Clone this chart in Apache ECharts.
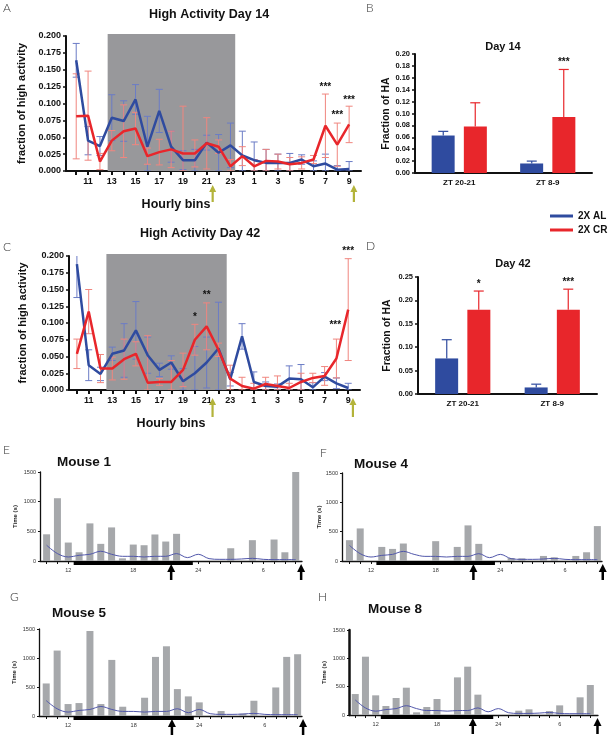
<!DOCTYPE html>
<html>
<head>
<meta charset="utf-8">
<title>High activity</title>
<script src="https://cdn.jsdelivr.net/npm/echarts@6/dist/echarts.min.js"></script>
<style>
  html, body { margin: 0; padding: 0; background: #fff; }
  #chart { width: 611px; height: 742px; }
</style>
</head>
<body>
<div id="chart"></div>
<script>
// hourly bins, 10 ... 33 (25 = 1 am of next day)
var hours = [10, 11, 12, 13, 14, 15, 16, 17, 18, 19, 20, 21, 22, 23, 24, 25, 26, 27, 28, 29, 30, 31, 32, 33];
var hourLabels = [11, 13, 15, 17, 19, 21, 23, 25, 27, 29, 31, 33];
var mouseLabels = [12, 18, 24, 30];

// day 14 (panel A)
var d14AL    = [0.164, 0.045, 0.037, 0.079, 0.074, 0.106, 0.036, 0.089, 0.036, 0.016, 0.016, 0.042, 0.027, 0.038, 0.023, 0.016, 0.012, 0.012, 0.012, 0.017, 0.007, 0.011, 0.002, 0.003];
var d14ALerr = [0.025, 0.021, 0.014, 0.034, 0.030, 0.022, 0.045, 0.032, 0.023, 0.014, 0.016, 0.011, 0.027, 0.033, 0.036, 0.027, 0.020, 0.013, 0.014, 0.007, 0.008, 0.014, 0.006, 0.011];
var d14CR    = [0.081, 0.082, 0.014, 0.045, 0.059, 0.063, 0.022, 0.028, 0.032, 0.026, 0.026, 0.041, 0.036, 0.007, 0.022, 0.007, 0.015, 0.014, 0.010, 0.012, 0.017, 0.067, 0.039, 0.069];
var d14CRerr = [0.063, 0.066, 0.012, 0.015, 0.039, 0.024, 0.012, 0.019, 0.027, 0.070, 0.020, 0.038, 0.010, 0.010, 0.014, 0.010, 0.017, 0.011, 0.010, 0.009, 0.006, 0.047, 0.032, 0.027];
var d14Stars = [[31, 0.124], [32, 0.082], [33, 0.105]];
var d14StarText = ['***', '***', '***'];
var d14Dark = [[12.65, 23.4, 0.203]];

// day 42 (panel C)
var d42AL    = [0.188, 0.037, 0.024, 0.054, 0.059, 0.089, 0.052, 0.030, 0.041, 0.013, 0.025, 0.041, 0.062, 0.016, 0.080, 0.012, 0.006, 0.005, 0.017, 0.016, 0.004, 0.020, 0.010, 0.003];
var d42ALerr = [0.050, 0.023, 0.010, 0.010, 0.040, 0.043, 0.027, 0.010, 0.010, 0.019, 0.040, 0.038, 0.069, 0.010, 0.019, 0.015, 0.006, 0.004, 0.019, 0.022, 0.007, 0.006, 0.008, 0.007];
var d42CR    = [0.054, 0.117, 0.032, 0.032, 0.046, 0.054, 0.011, 0.012, 0.012, 0.030, 0.075, 0.095, 0.060, 0.017, 0.006, 0.002, 0.009, 0.006, 0.003, 0.012, 0.018, 0.021, 0.047, 0.120];
var d42CRerr = [0.022, 0.033, 0.021, 0.017, 0.030, 0.018, 0.070, 0.005, 0.032, 0.025, 0.023, 0.035, 0.010, 0.020, 0.013, 0.008, 0.010, 0.015, 0.007, 0.013, 0.007, 0.014, 0.029, 0.076];
var d42Stars = [[20, 0.109], [21, 0.141], [31.9, 0.097], [33, 0.207]];
var d42StarText = ['*', '**', '***', '***'];
var d42Dark = [[12.5, 22.7, 0.203]];

var arrowHours = [21.5, 33.4];

// ZT windows (panels B, D)
var ztCats = ['ZT 20-21', 'ZT 8-9'];
var b14AL = [0.063, 0.016], b14ALerr = [0.007, 0.004];
var b14CR = [0.078, 0.094], b14CRerr = [0.040, 0.080];
var b14StarText = ['', '***'];
var b42AL = [0.076, 0.014], b42ALerr = [0.040, 0.007];
var b42CR = [0.180, 0.180], b42CRerr = [0.040, 0.044];
var b42StarText = ['*', '***'];

// single mice (panels E-H), seconds per hourly bin
var mouse1 = [450, 1058, 311, 147, 634, 289, 566, 45, 277, 266, 447, 328, 458, 0, 0, 0, 0, 215, 0, 351, 0, 362, 147, 1500];
var mouse4 = [355, 555, 0, 240, 206, 298, 0, 0, 338, 0, 240, 607, 292, 0, 0, 50, 45, 0, 86, 63, 0, 86, 149, 595];
var mouse5 = [561, 1128, 206, 223, 1466, 206, 967, 160, 0, 315, 1019, 1202, 464, 338, 235, 0, 86, 0, 40, 263, 0, 492, 1019, 1065];
var mouse8 = [370, 1029, 347, 159, 300, 482, 47, 141, 282, 0, 664, 853, 359, 0, 0, 0, 76, 100, 0, 70, 170, 0, 312, 529];
var groupLine = [266, 125, 68, 96, 113, 164, 113, 79, 79, 68, 79, 79, 125, 57, 113, 40, 28, 28, 34, 45, 28, 23, 23, 23];
var darkBar = [[12.5, 23.5]];

var FONT = "'Liberation Sans', Arial, sans-serif";
var BLUE = '#2f4b9f', RED = '#e8262b';
var BLUE_ERR = '#6b7cc6', RED_ERR = '#f0867f';
var ARROW_Y = '#b3b33a';

var chart = echarts.init(document.getElementById('chart'));

function pairs(v) {
  return hours.map(function (h, i) { return [h, v[i]]; });
}
function triples(v, e) {
  return hours.map(function (h, i) { return [h, v[i], e[i]]; });
}

// vertical error bar with caps
function errItem(color, cap) {
  return function (params, api) {
    var x = api.value(0), y = api.value(1), e = api.value(2);
    var hi = api.coord([x, y + e]);
    var lo = api.coord([x, Math.max(0, y - e)]);
    var st = { stroke: color, lineWidth: 1 };
    return {
      type: 'group',
      children: [
        { type: 'line', shape: { x1: hi[0], y1: hi[1], x2: lo[0], y2: lo[1] }, style: st },
        { type: 'line', shape: { x1: hi[0] - cap, y1: hi[1], x2: hi[0] + cap, y2: hi[1] }, style: st },
        { type: 'line', shape: { x1: lo[0] - cap, y1: lo[1], x2: lo[0] + cap, y2: lo[1] }, style: st }
      ]
    };
  };
}

// upward-only error bar next to a grouped bar
function barErrItem(dx, color, cap) {
  return function (params, api) {
    var c = api.value(0), v = api.value(1), e = api.value(2);
    var p0 = api.coord([c, v]), p1 = api.coord([c, v + e]);
    var x = p0[0] + dx;
    var st = { stroke: color, lineWidth: 1.2 };
    return {
      type: 'group',
      children: [
        { type: 'line', shape: { x1: x, y1: p0[1], x2: x, y2: p1[1] }, style: st },
        { type: 'line', shape: { x1: x - cap, y1: p1[1], x2: x + cap, y2: p1[1] }, style: st }
      ]
    };
  };
}

function textItem(texts, dx, size) {
  return function (params, api) {
    var p = api.coord([api.value(0), api.value(1)]);
    return {
      type: 'text', x: p[0] + dx, y: p[1],
      style: { text: texts[params.dataIndex], textAlign: 'center', textVerticalAlign: 'middle',
               font: 'bold ' + size + 'px ' + FONT, fill: '#111' }
    };
  };
}

function shadeItem(params, api) {
  var a = api.coord([api.value(0), 0]);
  var b = api.coord([api.value(1), api.value(2)]);
  return { type: 'rect', shape: { x: a[0], y: b[1], width: b[0] - a[0], height: a[1] - b[1] },
           style: { fill: '#98989b' } };
}

function darkBarItem(params, api) {
  var a = api.coord([api.value(0), 0]);
  var b = api.coord([api.value(1), 0]);
  return { type: 'rect', shape: { x: a[0], y: a[1], width: b[0] - a[0], height: 4 },
           style: { fill: '#000' } };
}

function arrowItem(color, gap, len, headW, headH, shaft) {
  return function (params, api) {
    var p = api.coord([api.value(0), 0]);
    var x = p[0], tip = p[1] + gap;
    return {
      type: 'group',
      children: [
        { type: 'rect', shape: { x: x - shaft / 2, y: tip + headH - 1, width: shaft, height: len - headH + 1 },
          style: { fill: color } },
        { type: 'polygon', shape: { points: [[x, tip], [x - headW / 2, tip + headH], [x + headW / 2, tip + headH]] },
          style: { fill: color } }
      ]
    };
  };
}

function hourAxis(gi, min, max) {
  return {
    type: 'value', gridIndex: gi, min: min, max: max,
    axisLine: { show: true, lineStyle: { color: '#111', width: 2 } },
    axisTick: { show: true, customValues: hours, length: 4, lineStyle: { color: '#111', width: 2 } },
    axisLabel: {
      customValues: hourLabels, margin: 6,
      formatter: function (v) { return v > 24 ? v - 24 : v; },
      fontFamily: FONT, fontWeight: 'bold', fontSize: 9, color: '#111'
    },
    splitLine: { show: false }
  };
}

function fracAxis(gi, max, interval, digits, name, gap, fs, nameFs) {
  return {
    type: 'value', gridIndex: gi, min: 0, max: max, interval: interval,
    name: name, nameLocation: 'middle', nameGap: gap,
    nameTextStyle: { fontFamily: FONT, fontWeight: 'bold', fontSize: nameFs, color: '#111' },
    axisLine: { show: true, lineStyle: { color: '#111', width: 2 } },
    axisTick: { show: true, length: 3, lineStyle: { color: '#111', width: 1.5 } },
    axisLabel: {
      margin: 5, formatter: function (v) { return v.toFixed(digits); },
      fontFamily: FONT, fontWeight: 'bold', fontSize: fs, color: '#111'
    },
    splitLine: { show: false }
  };
}

function ztAxis(gi) {
  return {
    type: 'category', gridIndex: gi, data: ztCats,
    axisLine: { show: true, lineStyle: { color: '#111', width: 2 } },
    axisTick: { show: false },
    axisLabel: { margin: 6, fontFamily: FONT, fontWeight: 'bold', fontSize: 8, color: '#111' }
  };
}

function mouseXAxis(gi, min, max) {
  return {
    type: 'value', gridIndex: gi, min: min, max: max,
    axisLine: { show: true, lineStyle: { color: '#111', width: 1.3 } },
    axisTick: { show: true, customValues: hours, length: 3, lineStyle: { color: '#111', width: 1 } },
    axisLabel: {
      customValues: mouseLabels, margin: 6,
      formatter: function (v) { return v > 24 ? v - 24 : v; },
      fontFamily: FONT, fontSize: 5.5, color: '#333'
    },
    splitLine: { show: false }
  };
}

function mouseYAxis(gi, gap, lw) {
  return {
    type: 'value', gridIndex: gi, min: 0, max: 1500, interval: 500,
    name: 'Time (s)', nameLocation: 'middle', nameGap: gap,
    nameTextStyle: { fontFamily: FONT, fontWeight: 'bold', fontSize: 6, color: '#222' },
    axisLine: { show: true, lineStyle: { color: '#111', width: lw } },
    axisTick: { show: true, length: 2, lineStyle: { color: '#111', width: 1 } },
    axisLabel: { margin: 4, formatter: function (v) { return String(v); },
                 fontFamily: FONT, fontSize: 5.5, color: '#333' },
    splitLine: { show: false }
  };
}

var series = [];

// panels A (grid 0) and C (grid 2)
[[0, d14AL, d14ALerr, d14CR, d14CRerr, d14Stars, d14StarText, d14Dark, 14, 17],
 [2, d42AL, d42ALerr, d42CR, d42CRerr, d42Stars, d42StarText, d42Dark, 8, 19]].forEach(function (p) {
  var gi = p[0];
  series.push({ type: 'custom', xAxisIndex: gi, yAxisIndex: gi, data: p[7], renderItem: shadeItem, clip: false, z: 1, silent: true });
  series.push({ type: 'custom', xAxisIndex: gi, yAxisIndex: gi, data: triples(p[1], p[2]), renderItem: errItem(BLUE_ERR, 3.5), clip: true, z: 2 });
  series.push({ type: 'custom', xAxisIndex: gi, yAxisIndex: gi, data: triples(p[3], p[4]), renderItem: errItem(RED_ERR, 3.5), clip: true, z: 2 });
  series.push({ name: '2X AL', type: 'line', xAxisIndex: gi, yAxisIndex: gi, data: pairs(p[1]), symbol: 'none',
                lineStyle: { color: BLUE, width: 2.5 }, itemStyle: { color: BLUE }, z: 4 });
  series.push({ name: '2X CR', type: 'line', xAxisIndex: gi, yAxisIndex: gi, data: pairs(p[3]), symbol: 'none',
                lineStyle: { color: RED, width: 2.5 }, itemStyle: { color: RED }, z: 5 });
  series.push({ type: 'custom', xAxisIndex: gi, yAxisIndex: gi, data: p[5], renderItem: textItem(p[6], 0, 10), clip: false, z: 6 });
  series.push({ type: 'custom', xAxisIndex: gi, yAxisIndex: gi, data: arrowHours.map(function (h) { return [h, 0]; }),
                renderItem: arrowItem(ARROW_Y, p[8], p[9], 7, 7, 2.2), clip: false, z: 6 });
});

// panels B (grid 1) and D (grid 3)
[[1, b14AL, b14ALerr, b14CR, b14CRerr, b14StarText],
 [3, b42AL, b42ALerr, b42CR, b42CRerr, b42StarText]].forEach(function (p) {
  var gi = p[0];
  series.push({ type: 'bar', xAxisIndex: gi, yAxisIndex: gi, data: p[1], barWidth: 23, itemStyle: { color: BLUE }, z: 2 });
  series.push({ type: 'bar', xAxisIndex: gi, yAxisIndex: gi, data: p[3], barWidth: 23, barGap: '40%', itemStyle: { color: RED }, z: 2 });
  series.push({ type: 'custom', xAxisIndex: gi, yAxisIndex: gi,
                data: p[1].map(function (v, i) { return [i, v, p[2][i]]; }), renderItem: barErrItem(-16, BLUE, 5), z: 3 });
  series.push({ type: 'custom', xAxisIndex: gi, yAxisIndex: gi,
                data: p[3].map(function (v, i) { return [i, v, p[4][i]]; }), renderItem: barErrItem(16, RED, 5), z: 3 });
  series.push({ type: 'custom', xAxisIndex: gi, yAxisIndex: gi,
                data: p[3].map(function (v, i) { return [i, v + p[4][i] + (gi === 1 ? 0.012 : 0.015)]; }),
                renderItem: textItem(p[5], 16, 10), clip: false, z: 4 });
});

// panels E-H (grids 4-7)
[[4, mouse1], [5, mouse4], [6, mouse5], [7, mouse8]].forEach(function (p) {
  var gi = p[0];
  series.push({ type: 'bar', xAxisIndex: gi, yAxisIndex: gi, data: pairs(p[1]), barWidth: 7,
                itemStyle: { color: '#a6a8ab' }, z: 2 });
  series.push({ type: 'line', xAxisIndex: gi, yAxisIndex: gi, data: pairs(groupLine), symbol: 'none', smooth: 0.35,
                lineStyle: { color: '#5157aa', width: 1 }, z: 3 });
  series.push({ type: 'custom', xAxisIndex: gi, yAxisIndex: gi, data: darkBar, renderItem: darkBarItem, clip: false, z: 4 });
  series.push({ type: 'custom', xAxisIndex: gi, yAxisIndex: gi,
                data: [[21.5, 0], [gi === 7 ? 33.7 : 33.5, 0]],
                renderItem: arrowItem('#000', 3, 16, 8, 8, 2.5), clip: false, z: 5 });
});

function label(t, x, y) {
  return { type: 'text', x: x, y: y, style: { text: t, font: '300 12px Lato, ' + FONT, fill: '#333' } };
}
function title(t, x, y, size) {
  return { type: 'text', x: x, y: y,
           style: { text: t, textAlign: 'center', textVerticalAlign: 'middle', font: 'bold ' + size + 'px ' + FONT, fill: '#111' } };
}
function mouseTitle(t, x, y) {
  return { type: 'text', x: x, y: y,
           style: { text: t, textVerticalAlign: 'middle', font: 'bold 13.5px ' + FONT, fill: '#111' } };
}

chart.setOption({
  animation: false,
  legend: {
    data: ['2X AL', '2X CR'], orient: 'vertical', left: 545, top: 206,
    icon: 'rect', itemWidth: 23, itemHeight: 3, itemGap: 4, selectedMode: false,
    textStyle: { fontFamily: FONT, fontWeight: 'bold', fontSize: 10, color: '#111' }
  },
  grid: [
    { left: 66, top: 36, width: 295, height: 135 },
    { left: 415, top: 54, width: 177, height: 119 },
    { left: 69, top: 256, width: 291, height: 134 },
    { left: 418, top: 277, width: 179, height: 117 },
    { left: 40, top: 472, width: 262, height: 89 },
    { left: 342, top: 473, width: 260, height: 88 },
    { left: 39, top: 629, width: 263, height: 87 },
    { left: 349, top: 630, width: 249, height: 85 }
  ],
  xAxis: [
    hourAxis(0, 9.14, 34),
    ztAxis(1),
    hourAxis(2, 9.33, 34),
    ztAxis(3),
    mouseXAxis(4, 9.39, 33.58),
    mouseXAxis(5, 9.31, 33.43),
    mouseXAxis(6, 9.34, 33.4),
    mouseXAxis(7, 9.39, 33.75)
  ],
  yAxis: [
    fracAxis(0, 0.2, 0.025, 3, 'fraction of high activity', 39, 9, 11),
    fracAxis(1, 0.2, 0.02, 2, 'Fraction of HA', 23, 7.5, 10.5),
    fracAxis(2, 0.2, 0.025, 3, 'fraction of high activity', 41, 9, 11),
    fracAxis(3, 0.25, 0.05, 2, 'Fraction of HA', 25, 7.5, 10.5),
    mouseYAxis(4, 22, 1.3),
    mouseYAxis(5, 20, 1.3),
    mouseYAxis(6, 22, 1.3),
    mouseYAxis(7, 22, 2.5)
  ],
  graphic: [
    label('A', 3, 2), label('B', 366, 2), label('C', 3, 241), label('D', 366, 240),
    label('E', 3, 444), label('F', 320, 447), label('G', 10, 591), label('H', 318, 591),
    title('High Activity Day 14', 209, 15, 12.5),
    title('Day 14', 503, 47, 11),
    title('High Activity Day 42', 200, 234, 12.5),
    title('Day 42', 513, 264, 11),
    title('Hourly bins', 176, 205, 12.5),
    title('Hourly bins', 171, 424, 12.5),
    mouseTitle('Mouse 1', 57, 462),
    mouseTitle('Mouse 4', 354, 464),
    mouseTitle('Mouse 5', 52, 613),
    mouseTitle('Mouse 8', 368, 609)
  ],
  series: series
});
</script>
</body>
</html>
